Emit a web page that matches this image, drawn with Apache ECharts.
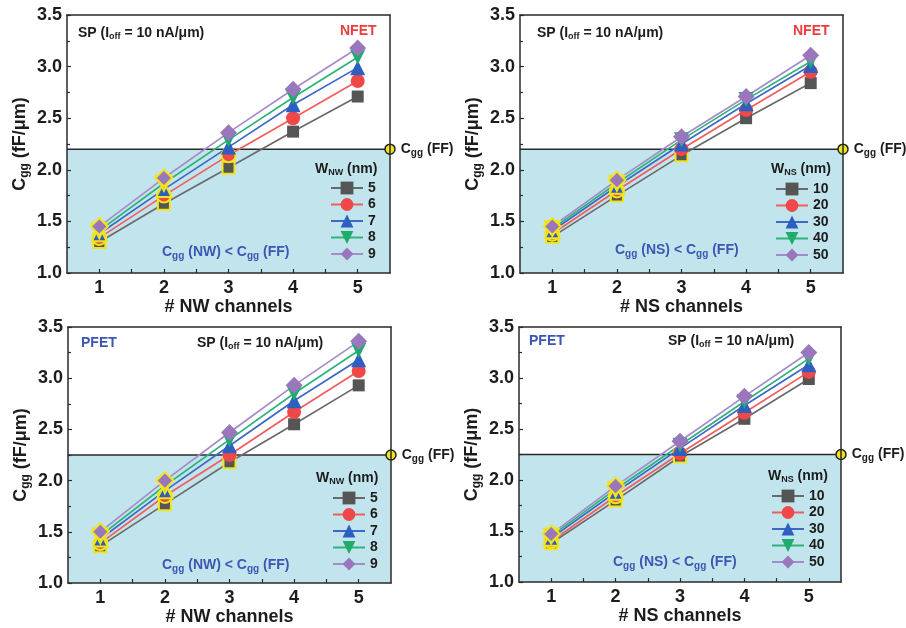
<!DOCTYPE html>
<html>
<head>
<meta charset="utf-8">
<script src="https://cdn.jsdelivr.net/npm/echarts@6/dist/echarts.min.js"></script>
<style>
  html, body { margin: 0; padding: 0; background: #ffffff; }
  #chart { width: 906px; height: 628px; }
</style>
</head>
<body>
<div id="chart"></div>
<script>
// ---- data ----
const channels = [1, 2, 3, 4, 5];
const nwWidths = ['5', '6', '7', '8', '9'];
const nsWidths = ['10', '20', '30', '40', '50'];
const yTickLabels = ['1.0', '1.5', '2.0', '2.5', '3.0', '3.5'];

// Cgg (fF/um) vs channel count, one row per width
const nfetNwCgg = [
  [1.30, 1.67, 2.02, 2.37, 2.71],
  [1.34, 1.75, 2.14, 2.50, 2.86],
  [1.38, 1.81, 2.22, 2.63, 2.99],
  [1.41, 1.87, 2.29, 2.70, 3.09],
  [1.45, 1.92, 2.36, 2.78, 3.18]
];
const nfetNsCgg = [
  [1.35, 1.75, 2.14, 2.50, 2.84],
  [1.38, 1.80, 2.20, 2.58, 2.95],
  [1.41, 1.84, 2.25, 2.64, 3.01],
  [1.43, 1.87, 2.29, 2.68, 3.05],
  [1.45, 1.90, 2.32, 2.71, 3.11]
];
const pfetNwCgg = [
  [1.36, 1.77, 2.18, 2.55, 2.93],
  [1.39, 1.85, 2.25, 2.67, 3.07],
  [1.43, 1.90, 2.34, 2.78, 3.18],
  [1.46, 1.95, 2.40, 2.85, 3.27],
  [1.50, 2.00, 2.47, 2.93, 3.36]
];
const pfetNsCgg = [
  [1.38, 1.80, 2.23, 2.60, 2.99],
  [1.40, 1.84, 2.26, 2.66, 3.06],
  [1.43, 1.88, 2.31, 2.73, 3.13],
  [1.45, 1.91, 2.34, 2.77, 3.19],
  [1.47, 1.94, 2.38, 2.82, 3.25]
];
// FinFET reference capacitance
const ffCggNfet = 2.20;
const ffCggPfet = 2.25;

// ---- styles ----
const FONT = '"Liberation Sans", Arial, Helvetica, sans-serif';
const TEXT = '#1c1c1c';
const RED_TEXT = '#f03c3c';
const BLUE_TEXT = '#3b56b3';
const SHADE = '#c2e5ed';
const HILITE = '#f2e41c';
const markerColors = ['#555555', '#f04848', '#2d5fc0', '#1fab6c', '#9a77bd'];
const lineColors = ['#6a6a6a', '#f35c5c', '#3c68c6', '#2db27a', '#a68bc9'];
const symbols = ['rect', 'circle', 'triangle', 'triangle', 'diamond'];
const symbolRotates = [0, 0, 0, 180, 0];
const symbolSizes = [12, 14, 15, 15, 17];

const subRich = (size) => ({
  sub: { fontSize: size, fontWeight: 'bold', fontFamily: FONT, lineHeight: size, padding: [Math.round(size * 0.75), 0, 0, 0] }
});

const panels = [
  { grid: { left: 67, top: 15, width: 323, height: 258 }, widths: nwWidths, cgg: nfetNwCgg, ff: ffCggNfet,
    xName: '# NW channels', wLabel: 'W{sub|NW} (nm)', region: 'C{sub|gg} (NW) < C{sub|gg} (FF)', type: 'NFET',
    sp: [78, 33], typePos: [340, 31], legTitle: [315, 169], legend: [330, 180], regionPos: [162, 252] },
  { grid: { left: 520, top: 15, width: 323, height: 258 }, widths: nsWidths, cgg: nfetNsCgg, ff: ffCggNfet,
    xName: '# NS channels', wLabel: 'W{sub|NS} (nm)', region: 'C{sub|gg} (NS) < C{sub|gg} (FF)', type: 'NFET',
    sp: [537, 33], typePos: [793, 31], legTitle: [771, 169], legend: [775, 181], regionPos: [615, 250] },
  { grid: { left: 68, top: 327, width: 323, height: 256 }, widths: nwWidths, cgg: pfetNwCgg, ff: ffCggPfet,
    xName: '# NW channels', wLabel: 'W{sub|NW} (nm)', region: 'C{sub|gg} (NW) < C{sub|gg} (FF)', type: 'PFET',
    sp: [197, 343], typePos: [81, 343], legTitle: [316, 478], legend: [332, 490], regionPos: [162, 565] },
  { grid: { left: 519, top: 327, width: 322, height: 255 }, widths: nsWidths, cgg: pfetNsCgg, ff: ffCggPfet,
    xName: '# NS channels', wLabel: 'W{sub|NS} (nm)', region: 'C{sub|gg} (NS) < C{sub|gg} (FF)', type: 'PFET',
    sp: [668, 341], typePos: [529, 341], legTitle: [768, 476], legend: [771, 488], regionPos: [613, 562] }
];

const grids = [], xAxes = [], yAxes = [], series = [], legends = [], graphics = [];
const axisLineStyle = { color: '#2a2a2a', width: 1.5 };

panels.forEach((p, i) => {
  grids.push(Object.assign({ containLabel: false }, p.grid));

  // bottom axis with labels, plus a bare top axis closing the box
  xAxes.push({
    type: 'value', gridIndex: i, min: 0.5, max: 5.5, z: 5,
    axisLine: { show: true, onZero: false, lineStyle: axisLineStyle },
    axisTick: { show: true, inside: true, length: 4, lineStyle: { color: '#2a2a2a', width: 1.2 },
      customValues: [1, 1.5, 2, 2.5, 3, 3.5, 4, 4.5, 5] },
    axisLabel: { customValues: channels, fontSize: 18, fontWeight: 'bold', color: TEXT, fontFamily: FONT, margin: 6 },
    splitLine: { show: false },
    name: p.xName, nameLocation: 'middle', nameGap: 19,
    nameTextStyle: { fontSize: 18, fontWeight: 'bold', color: TEXT, fontFamily: FONT }
  });
  xAxes.push({
    type: 'value', gridIndex: i, min: 0.5, max: 5.5, position: 'top', z: 5,
    axisLine: { show: true, onZero: false, lineStyle: axisLineStyle },
    axisTick: { show: false }, axisLabel: { show: false }, splitLine: { show: false }
  });

  yAxes.push({
    type: 'value', gridIndex: i, min: 1.0, max: 3.5, interval: 0.5, z: 5,
    axisLine: { show: true, onZero: false, lineStyle: axisLineStyle },
    axisTick: { show: true, inside: true, length: 4, lineStyle: { color: '#2a2a2a', width: 1.2 } },
    minorTick: { show: true, splitNumber: 2, length: 3, lineStyle: { color: '#2a2a2a', width: 1.2 } },
    axisLabel: { fontSize: 18, fontWeight: 'bold', color: TEXT, fontFamily: FONT, margin: 5,
      formatter: (v) => yTickLabels[Math.round((v - 1.0) / 0.5)] },
    splitLine: { show: false },
    name: 'C{sub|gg} (fF/μm)', nameLocation: 'middle', nameGap: 38,
    nameTextStyle: { fontSize: 18, fontWeight: 'bold', color: TEXT, fontFamily: FONT, rich: subRich(12) }
  });
  yAxes.push({
    type: 'value', gridIndex: i, min: 1.0, max: 3.5, position: 'right', z: 5,
    axisLine: { show: true, onZero: false, lineStyle: axisLineStyle },
    axisTick: { show: false }, axisLabel: { show: false }, splitLine: { show: false }
  });

  // FinFET reference: shaded region below the line plus marker at the right edge
  series.push({
    type: 'line', xAxisIndex: 2 * i, yAxisIndex: 2 * i, z: 1, silent: true, animation: false, clip: false,
    symbol: 'none',
    data: [
      { value: [0.5, p.ff], symbol: 'none' },
      { value: [5.5, p.ff], symbol: 'circle', symbolSize: 10,
        itemStyle: { color: HILITE, borderColor: '#222', borderWidth: 1.5 },
        label: { show: true, position: 'right', distance: 5, formatter: 'C{sub|gg} (FF)',
          fontSize: 14, fontWeight: 'bold', color: TEXT, fontFamily: FONT, rich: subRich(10) } }
    ],
    showSymbol: true,
    lineStyle: { color: '#2a2a2a', width: 1.5 },
    areaStyle: { color: SHADE, opacity: 1, origin: 'start' }
  });

  p.widths.forEach((w, k) => {
    series.push({
      name: w, type: 'line', xAxisIndex: 2 * i, yAxisIndex: 2 * i, z: 3, animation: false,
      symbol: symbols[k], symbolSize: symbolSizes[k], symbolRotate: symbolRotates[k], showSymbol: true,
      itemStyle: { color: markerColors[k], borderWidth: 0 },
      lineStyle: { color: lineColors[k], width: 1.7 },
      data: channels.map((c, j) => {
        const v = p.cgg[k][j];
        const item = { value: [c, v] };
        if (v < p.ff) item.itemStyle = { borderColor: HILITE, borderWidth: 2 };
        return item;
      })
    });
  });

  legends.push({
    data: p.widths, orient: 'vertical', left: p.legend[0], top: p.legend[1] + 1,
    itemWidth: 32, itemHeight: 16, itemGap: 2.5, padding: 0, selectedMode: false,
    textStyle: { fontSize: 14, fontWeight: 'bold', color: TEXT, fontFamily: FONT }
  });

  const txt = (x, y, text, size, color, subSize) => ({
    type: 'text', x: x, y: y, silent: true, z: 10,
    style: { text: text, fontSize: size, fontWeight: 'bold', fontFamily: FONT, fill: color,
      align: 'left', verticalAlign: 'middle', rich: subRich(subSize) }
  });
  graphics.push(txt(p.sp[0], p.sp[1], 'SP (I{sub|off} = 10 nA/μm)', 14, TEXT, 9));
  graphics.push(txt(p.typePos[0], p.typePos[1], p.type, 14, p.type === 'NFET' ? RED_TEXT : BLUE_TEXT, 9));
  graphics.push(txt(p.legTitle[0], p.legTitle[1], p.wLabel, 14, TEXT, 9));
  graphics.push(txt(p.regionPos[0], p.regionPos[1], p.region, 14, BLUE_TEXT, 10));
});

const chart = echarts.init(document.getElementById('chart'), null, { renderer: 'canvas' });
chart.setOption({
  backgroundColor: '#ffffff',
  animation: false,
  textStyle: { fontFamily: FONT },
  grid: grids,
  xAxis: xAxes,
  yAxis: yAxes,
  legend: legends,
  series: series,
  graphic: graphics
});
</script>
</body>
</html>
